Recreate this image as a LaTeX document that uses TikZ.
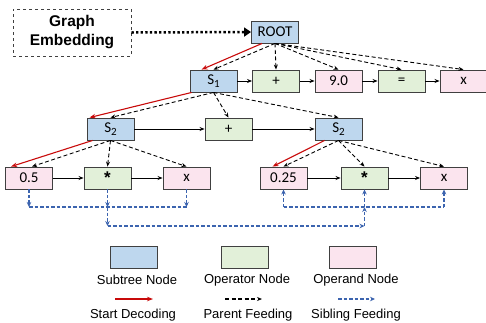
\documentclass[tikz,border=0pt]{standalone}
\usepackage{fontspec}
\setmainfont{Carlito}
\newfontfamily\arialf{Liberation Sans}
\usetikzlibrary{arrows.meta,calc}
\definecolor{subfill}{RGB}{190,215,238}
\definecolor{opfill}{RGB}{226,240,217}
\definecolor{ondfill}{RGB}{251,228,238}
\definecolor{bordc}{RGB}{64,64,64}
\definecolor{redc}{RGB}{200,10,10}
\definecolor{sibc}{RGB}{60,100,175}
\newcommand{\subS}[1]{S\raisebox{-3.5pt}{\fontsize{11}{11}\selectfont #1}}
\newcommand{\bigast}{\raisebox{-1pt}{\arialf\bfseries\fontsize{17}{17}\selectfont *}}
\begin{document}
\begin{tikzpicture}[x=1pt,y=-1pt,
  box/.style={draw=bordc, line width=0.9pt, minimum width=47pt, minimum height=22pt, inner sep=0pt, font=\fontsize{15}{15}\selectfont},
  subt/.style={box, fill=subfill},
  oper/.style={box, fill=opfill},
  opnd/.style={box, fill=ondfill},
  seqarr/.style={-{Stealth[length=5pt,width=4pt]}, line width=0.8pt},
  pararr/.style={-{Stealth[length=5pt,width=4pt]}, dash pattern=on 4pt off 2.5pt, line width=0.9pt},
  startarr/.style={-{Stealth[length=6pt,width=4.5pt]}, draw=redc, line width=1.1pt},
  sibline/.style={draw=sibc, dash pattern=on 3.5pt off 2pt, line width=1.1pt},
  sibarr/.style={sibline, -{Stealth[length=5pt,width=4.5pt]}},
  legtext/.style={font=\arialf\fontsize{13}{13}\selectfont, inner sep=0pt}
]
\useasboundingbox (0,0) rectangle (486,322);

% Graph embedding
\node[draw=bordc, dashed, line width=0.9pt, minimum width=118pt, minimum height=47pt, inner sep=0pt,
  align=center, font=\arialf\bfseries\fontsize{15.5}{19}\selectfont] (ge) at (72,32.5) {Graph\\Embedding};

% nodes
\node[subt] (root) at (275,32) {ROOT};
\node[subt] (s1) at (213.5,81) {\subS{1}};
\node[oper] (p1) at (276,81) {+};
\node[opnd] (n90) at (338.5,81) {9.0};
\node[oper] (eq) at (401.5,81) {=};
\node[opnd] (x0) at (463.5,81) {x};

\node[subt] (s2l) at (110.5,129) {\subS{2}};
\node[oper] (p2) at (228.5,129) {+};
\node[subt] (s2r) at (338.5,129) {\subS{2}};

\node[opnd] (a05) at (29,178) {0.5};
\node[oper] (am1) at (107.5,178) {\bigast};
\node[opnd] (ax1) at (186.5,178) {x};
\node[opnd] (a025) at (283.5,178) {0.25};
\node[oper] (am2) at (364.5,178) {\bigast};
\node[opnd] (ax2) at (444,178) {x};

% graph embedding arrow
\draw[line width=2.5pt, dash pattern=on 2.3pt off 2.3pt, -{Triangle[length=7pt,width=9pt]}] (ge.east) -- (root.west);

% sequence arrows
\draw[seqarr] (s1) -- (p1);
\draw[seqarr] (p1) -- (n90);
\draw[seqarr] (n90) -- (eq);
\draw[seqarr] (eq) -- (x0);
\draw[seqarr] (s2l) -- (p2);
\draw[seqarr] (p2) -- (s2r);
\draw[seqarr] (a05) -- (am1);
\draw[seqarr] (am1) -- (ax1);
\draw[seqarr] (a025) -- (am2);
\draw[seqarr] (am2) -- (ax2);

% start decoding
\draw[startarr] ($(root.south west)+(11,0)$) -- ($(s1.north west)+(12,0)$);
\draw[startarr] ($(s1.south west)+(2,0)$) -- ($(s2l.north west)+(3,0)$);
\draw[startarr] ($(s2l.south west)+(6,0)$) -- ($(a05.north west)+(6,0)$);
\draw[startarr] ($(s2r.south west)+(10,0)$) -- ($(a025.north west)+(13,0)$);

% parent feeding
\foreach \c in {s1,p1,n90,eq,x0} \draw[pararr] (root.south) -- (\c.north);
\foreach \c in {s2l,p2,s2r} \draw[pararr] (s1.south) -- (\c.north);
\draw[pararr] (s2l.south) -- ($(a05.north)+(3,0)$);
\draw[pararr] (s2l.south) -- (am1.north);
\draw[pararr] (s2l.south) -- (ax1.north);
\draw[pararr] (s2r.south) -- (a025.north);
\draw[pararr] (s2r.south) -- (am2.north);
\draw[pararr] (s2r.south) -- (ax2.north);

% sibling feeding
\coordinate (ly1) at (0,207);
\coordinate (ly2) at (0,226);
\foreach \c in {a05,am1,ax1} \draw[sibarr] (\c.south) -- (\c.south |- ly1);
\draw[sibline] (a05.south |- ly1) -- (ax1.south |- ly1);
\draw[sibarr] (am1.south |- ly1) -- (am1.south |- ly2);
\draw[sibarr] (am1.south |- ly2) -- (am2.south |- ly2);
\draw[sibarr] (am2.south |- ly2) -- (am2.south |- ly1);
\draw[sibline] (a025.south |- ly1) -- (ax2.south |- ly1);
\foreach \c in {a025,am2,ax2} \draw[sibarr] (\c.south |- ly1) -- (\c.south);

% legend
\node[subt] (lg1) at (133.5,257.5) {};
\node[oper] (lg2) at (244.5,257.5) {};
\node[opnd] (lg3) at (352.5,257.5) {};
\node[legtext] (lt1) at (137,280) {Subtree Node};
\node[legtext] (lt2) at (247,280) {Operator Node};
\node[legtext] (lt3) at (356,280) {Operand Node};
\coordinate (la1) at (115,299);
\coordinate (lb1) at (153,299);
\coordinate (la2) at (225,299);
\coordinate (lb2) at (262,299);
\coordinate (la3) at (338,299);
\coordinate (lb3) at (375,299);
\draw[startarr, line width=1.5pt] (la1) -- (lb1);
\draw[pararr, line width=1.6pt] (la2) -- (lb2);
\draw[sibarr, line width=1.6pt] (la3) -- (lb3);
\node[legtext] (lu1) at (133,315) {Start Decoding};
\node[legtext] (lu2) at (248,315) {Parent Feeding};
\node[legtext] (lu3) at (356,315) {Sibling Feeding};
\end{tikzpicture}
\end{document}
